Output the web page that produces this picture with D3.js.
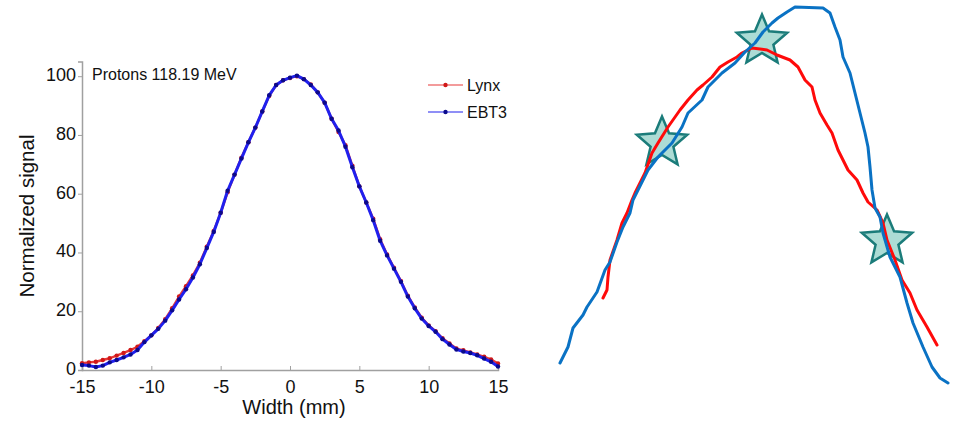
<!DOCTYPE html>
<html>
<head>
<meta charset="utf-8">
<script src="https://cdn.jsdelivr.net/npm/d3@7"></script>
<style>
  html, body { margin: 0; padding: 0; background: #fff; }
  svg { display: block; font-family: "Liberation Sans", Arial, sans-serif; }
</style>
</head>
<body>
<svg id="chart" width="954" height="421"></svg>
<script>
// ---------- Left chart data ----------
const widthMm = d3.range(-15, 15.001, 0.5).map(v => +v.toFixed(1));
const ebt3 = [1.7, 1.5, 1.0, 1.5, 2.6, 3.4, 4.3, 5.3, 6.8, 9.5,
  11.8, 14.0, 16.8, 20.3, 24.0, 27.5, 31.5, 36, 41.5, 47,
  53.5, 61, 66.5, 72, 77.5, 82.5, 88, 93.5, 97, 98.6,
  99.5, 100.2, 99, 97, 94.5, 91, 85.5, 81.5, 76, 69,
  62.5, 57, 51, 44, 39, 34.5, 30, 25, 21, 17.5,
  15, 13, 10.5, 8.7, 7, 6.3, 5.8, 5, 3.9, 2.8, 1.2];
const lynx = [2.3, 2.6, 2.8, 3.4, 4.0, 4.9, 5.8, 6.8, 7.9, 9.8,
  11.8, 14.3, 17.3, 21.0, 25.0, 28.5, 32.2, 36.5, 42, 47.3,
  53.5, 60.5, 66.5, 72.3, 77.5, 82.5, 88, 93.3, 97, 98.6,
  99.4, 100, 99, 97.2, 94.5, 91, 85.5, 81, 76.5, 69.5,
  62.5, 57, 51.5, 44.5, 39.3, 34.8, 30.3, 25.3, 21.3, 17.8,
  15.2, 13.2, 10.8, 9.0, 7.3, 6.7, 6.0, 5.3, 4.5, 3.6, 2.2];
const xTicks = [-15, -10, -5, 0, 5, 10, 15];
const yTicks = [0, 20, 40, 60, 80, 100];
const legendNames = ["Lynx", "EBT3"];
const annotation = "Protons 118.19 MeV";

// ---------- Right schematic data (arbitrary units 0-100) ----------
const blueX = [2.5, 4.5, 5.75, 8.25, 9.25, 11.75, 13.75, 15, 16.75, 18.25, 20, 20.75, 22, 24.5, 27, 30.5, 33, 34.5, 38, 39.5, 43, 46.25, 48.75, 51.25, 53.25, 55.5, 57, 59.25, 61.25, 68.25, 70, 71.25, 72.5, 73.25, 75, 76.25, 77.5, 78.75, 79.5, 80, 80.5, 81.25, 82.5, 83.25, 85, 87.5, 89.25, 90.75, 93.25, 95.5, 97.5, 99.5];
const blueY = [9.25, 13.25, 18, 21.25, 23.25, 27, 32.5, 34.5, 39.5, 43.25, 46.75, 50, 52.5, 57.5, 60.75, 64.25, 68.25, 71.75, 75, 78.25, 81.75, 84.25, 87, 89.25, 92, 94.25, 95.5, 97, 98.25, 98, 96.75, 93.25, 90, 85.75, 81.75, 76.75, 71.75, 66.75, 63.25, 58.25, 52.5, 48, 45.75, 41.75, 35.75, 30.75, 24.25, 19.25, 13.25, 8.25, 5.5, 4.25];
const redX = [13.25, 14.25, 14.5, 15, 16.75, 18, 19.25, 20.5, 21.25, 23.75, 25.5, 27, 29.5, 32.5, 34.5, 36.75, 38.25, 40.5, 42.5, 44.5, 46.75, 48, 50.5, 54.25, 56.75, 60, 62, 63.75, 65.5, 66.25, 67.5, 69.25, 70.5, 72, 74.5, 76.75, 78.25, 79.5, 81.75, 83.25, 84.25, 86.25, 88, 90, 91.75, 94.25, 96.75];
const redY = [25.5, 27.5, 30.75, 35, 40, 44.25, 46.75, 50, 51.75, 56.75, 61.75, 64.25, 68.25, 72.5, 75, 77.5, 78.75, 80.75, 83.25, 84.5, 85.75, 86.75, 88, 87.5, 86.25, 85, 83.25, 80, 78.25, 75, 71.75, 68.75, 66.75, 62.5, 57.5, 55, 51.75, 49.5, 47.5, 44.25, 40, 35, 30, 26.75, 22.5, 18.25, 13.75];
const starX = [28, 53, 84.25];
const starY = [64.25, 89.75, 39.75];

const svg = d3.select("#chart");

// ================= LEFT CHART =================
const x = d3.scaleLinear().domain([-15, 15]).range([82, 498]);
const y = d3.scaleLinear().domain([0, 105]).range([370, 61.5]);
const axisColor = "#a0a0a0";

const gx = svg.append("g").attr("transform", "translate(0,370)")
  .call(d3.axisBottom(x).tickValues(xTicks).tickSize(-4).tickPadding(10).tickFormat(d => String(d)));
const gy = svg.append("g").attr("transform", "translate(82,0)")
  .call(d3.axisLeft(y).tickValues(yTicks).tickSize(4).tickPadding(2).tickFormat(d => String(d)));
[gx, gy].forEach(g => {
  g.select(".domain").attr("stroke", axisColor).attr("stroke-width", 1.5);
  g.selectAll(".tick line").attr("stroke", axisColor);
  g.selectAll(".tick text").attr("fill", "#111").attr("font-size", 18)
    .attr("font-family", "Liberation Sans, Arial, sans-serif");
});
gx.selectAll(".tick text").attr("dy", "0.71em");
gy.selectAll(".tick text").attr("dy", "0.24em");

svg.append("text").attr("x", 294).attr("y", 414).attr("text-anchor", "middle")
  .attr("font-size", 20).attr("fill", "#111").text("Width (mm)");
svg.append("text").attr("transform", "translate(34,216) rotate(-90)").attr("text-anchor", "middle")
  .attr("font-size", 20.5).attr("fill", "#111").text("Normalized signal");
svg.append("text").attr("x", 92).attr("y", 80).attr("font-size", 16).attr("fill", "#111").text(annotation);

const series = [
  { name: legendNames[0], vals: lynx, line: "#e83838", mark: "#d01818", w: 2.4 },
  { name: legendNames[1], vals: ebt3, line: "#2020ee", mark: "#0a0a8c", w: 3 }
];
const lineGen = d3.line().x(d => x(d[0])).y(d => y(d[1]));
series.forEach(s => {
  const pts = widthMm.map((w, i) => [w, s.vals[i]]);
  svg.append("path").datum(pts).attr("fill", "none").attr("stroke", s.line)
    .attr("stroke-width", s.w).attr("stroke-linejoin", "round").attr("d", lineGen);
  svg.append("g").selectAll("circle").data(pts).join("circle")
    .attr("cx", d => x(d[0])).attr("cy", d => y(d[1])).attr("r", 2.2).attr("fill", s.mark);
});

// legend
series.forEach((s, i) => {
  const ly = 85 + i * 27;
  svg.append("line").attr("x1", 428).attr("x2", 463).attr("y1", ly).attr("y2", ly)
    .attr("stroke", s.line).attr("stroke-width", 1.2);
  svg.append("circle").attr("cx", 445.5).attr("cy", ly).attr("r", 2.2).attr("fill", s.mark);
  svg.append("text").attr("x", 467).attr("y", ly).attr("dy", "0.36em").attr("font-size", 16)
    .attr("fill", "#111").text(s.name);
});

// ================= RIGHT SCHEMATIC =================
const rx = d3.scaleLinear().domain([0, 100]).range([550, 950]);
const ry = d3.scaleLinear().domain([0, 100]).range([400, 0]);

function starPath(cx, cy, R, r) {
  const pts = [];
  for (let k = 0; k < 10; k++) {
    const a = -Math.PI / 2 + k * Math.PI / 5;
    const rad = k % 2 === 0 ? R : r;
    pts.push([cx + rad * Math.cos(a), cy + rad * Math.sin(a)]);
  }
  return "M" + pts.map(p => p.join(",")).join("L") + "Z";
}

svg.append("g").selectAll("path").data(starX.map((v, i) => [v, starY[i]])).join("path")
  .attr("d", d => starPath(rx(d[0]), ry(d[1]), 26.5, 12))
  .attr("fill", "#acdcd5").attr("stroke", "#1b7c7a").attr("stroke-width", 2.5)
  .attr("stroke-linejoin", "miter");

const rLine = d3.line().x(d => rx(d[0])).y(d => ry(d[1]));
svg.append("path").datum(redX.map((v, i) => [v, redY[i]]))
  .attr("fill", "none").attr("stroke", "#ff0a0a").attr("stroke-width", 3)
  .attr("stroke-linejoin", "round").attr("stroke-linecap", "round").attr("d", rLine);
svg.append("path").datum(blueX.map((v, i) => [v, blueY[i]]))
  .attr("fill", "none").attr("stroke", "#0a72c4").attr("stroke-width", 3)
  .attr("stroke-linejoin", "round").attr("stroke-linecap", "round").attr("d", rLine);
</script>
</body>
</html>
